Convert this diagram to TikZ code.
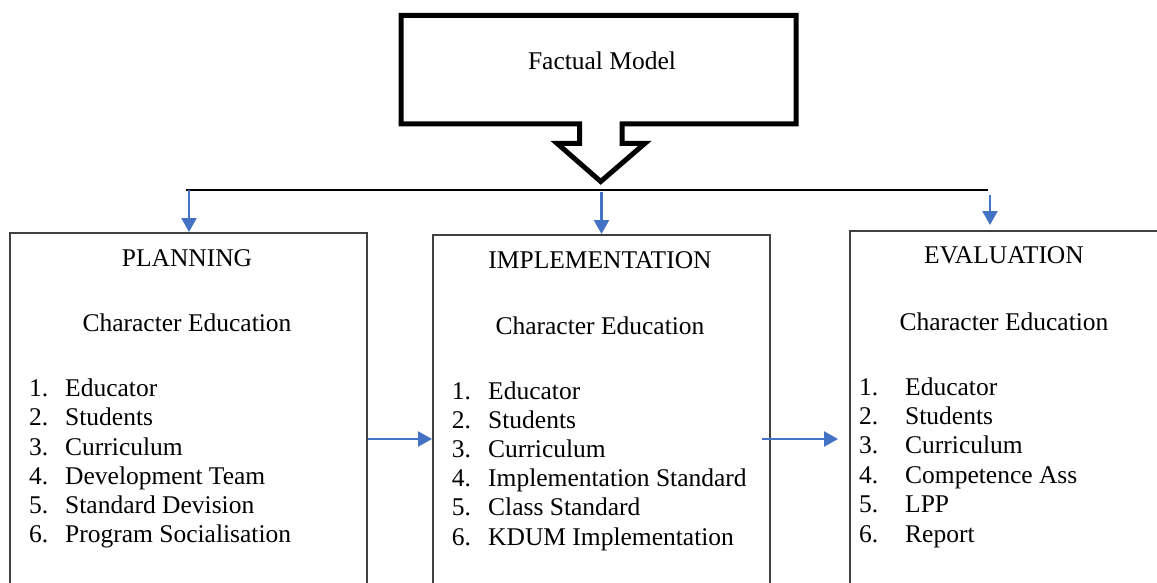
\documentclass[tikz,border=0pt]{standalone}
\usepackage{fontspec}
\setmainfont{Liberation Serif}
\usetikzlibrary{arrows.meta}
\definecolor{arrowblue}{HTML}{4472C4}
\definecolor{boxgray}{HTML}{404040}
\tikzset{
  stagebox/.style={draw=boxgray, line width=1.5pt, rectangle, inner sep=0pt, anchor=north west},
  bluearrow/.style={draw=arrowblue, line width=2.4pt, -{Triangle[width=15pt,length=14pt]}},
  hline/.style={draw=black, line width=2pt},
  blockarrow/.style={draw=black, line width=5pt, line join=miter},
  lbl/.style={inner sep=0pt, anchor=base},
  item/.style={inner sep=0pt, anchor=base west},
}
\begin{document}
\begin{tikzpicture}[x=1pt, y=-1pt, font=\fontsize{25.5}{29.3}\selectfont]
\useasboundingbox (0,0) rectangle (1157,583);
\clip (0,0) rectangle (1157,583);

% Factual model block arrow
\draw[blockarrow] (401,15.5) -- (796,15.5) -- (796,124) -- (622,124) -- (622,143.3)
  -- (645,143.3) -- (600.7,181.5) -- (557,143.3) -- (579.7,143.3) -- (579.7,124)
  -- (401,124) -- cycle;
\node[lbl] (fm) at (602,70) {Factual Model};

% stage boxes
\node[stagebox, minimum width=357pt, minimum height=420pt] (plan) at (9,232) {};
\node[stagebox, minimum width=337pt, minimum height=420pt] (imp) at (432,234) {};
\node[stagebox, minimum width=420pt, minimum height=420pt] (eval) at (849,230) {};

% distribution line
\coordinate (hl) at (186,190);
\coordinate (hr) at (988,190);
\draw[hline] (hl) -- (hr);

% drop arrows
\coordinate (d1) at (189,190);
\coordinate (d2) at (601.5,192);
\coordinate (d3) at (990,195);
\coordinate (d3end) at (990,225);
\draw[bluearrow] (d1) -- (plan.north -| d1);
\draw[bluearrow] (d2) -- (imp.north -| d2);
\draw[bluearrow] (d3) -- (d3end);

% horizontal arrows
\coordinate (h1) at (368,439);
\coordinate (h2) at (762,439);
\coordinate (h2end) at (838,439);
\draw[bluearrow] (h1) -- (imp.west |- h1);
\draw[bluearrow] (h2) -- (h2end);

% headings
\node[lbl] (planT) at (187,266) {PLANNING};
\node[lbl] (planC) at (187,331) {Character Education};
\node[lbl] (impT) at (600,268) {IMPLEMENTATION};
\node[lbl] (impC) at (600,334) {Character Education};
\node[lbl] (evalT) at (1004,263) {EVALUATION};
\node[lbl] (evalC) at (1004,330) {Character Education};

% lists
\foreach \t [count=\k from 0] in {Educator, Students, Curriculum, Development Team, Standard Devision, Program Socialisation} {
  \pgfmathtruncatemacro{\n}{\k+1}
  \node[item] (pn\n) at (29,396.7+29.2*\k) {\n.};
  \node[item] (pt\n) at (65,396.7+29.2*\k) {\t};
}
\foreach \t [count=\k from 0] in {Educator, Students, Curriculum, Implementation Standard, Class Standard, KDUM Implementation} {
  \pgfmathtruncatemacro{\n}{\k+1}
  \node[item] (in\n) at (451.7,399+29.2*\k) {\n.};
  \node[item] (it\n) at (488,399+29.2*\k) {\t};
}
\foreach \t [count=\k from 0] in {Educator, Students, Curriculum, Competence Ass, LPP, Report} {
  \pgfmathtruncatemacro{\n}{\k+1}
  \node[item] (en\n) at (859,395+29.4*\k) {\n.};
  \node[item] (et\n) at (905,395+29.4*\k) {\t};
}
\end{tikzpicture}
\end{document}
